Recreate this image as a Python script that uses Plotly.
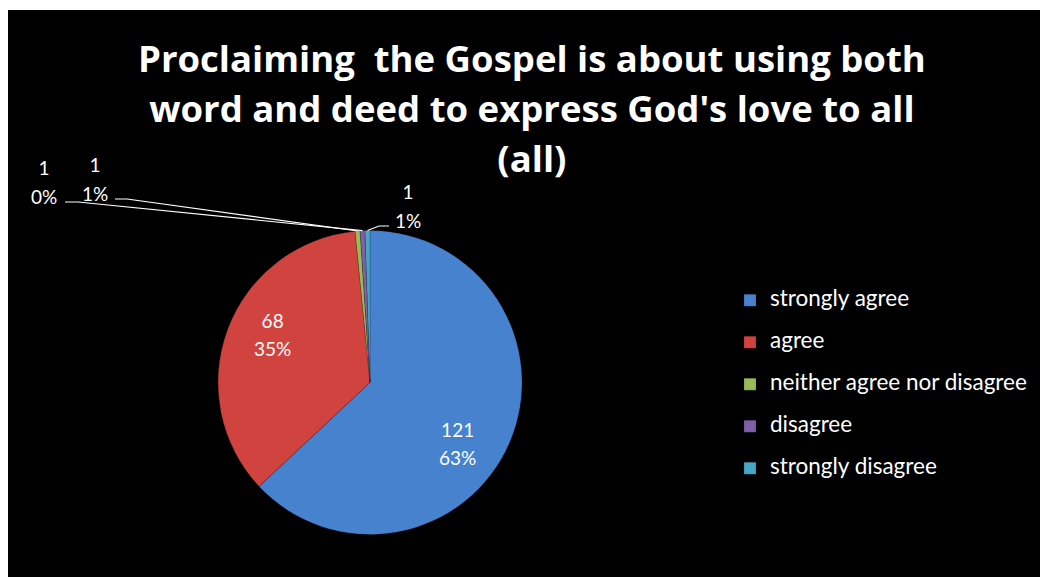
import math
import plotly.graph_objects as go

categories = ["strongly agree", "agree", "neither agree nor disagree", "disagree", "strongly disagree"]
values = [121, 68, 1, 1, 1]
percent_labels = ["63%", "35%", "1%", "0%", "1%"]
colors = ["#4782CF", "#D0433F", "#9BBB59", "#7F60A8", "#46A8C4"]
title_lines = ["Proclaiming  the Gospel is about using both",
               "word and deed to express God's love to all",
               "(all)"]

# The page body adds an 8px margin, so the figure is 8px smaller than the window
OFF = 8
W, H = 1048 - OFF, 577 - OFF
FONT = "Lato"
TITLE_FONT = "Open Sans"

def fx(x):
    return (x - OFF) / W

def fy(y):
    return 1 - (y - OFF) / H

def sized(text, size):
    return "<br>".join(f"<span style='font-size:{size}px'>{t}</span>" for t in text.split("<br>"))

# pie geometry (window pixels)
cx, cy, r = 370, 382.5, 152

texts = [f"{v}<br>{p}" for v, p in zip(values, percent_labels)]
legend_names = [sized(c, 22.5) + "<br> " for c in categories]

fig = go.Figure()
fig.add_trace(go.Pie(
    labels=legend_names,
    values=values,
    textinfo="none",
    marker=dict(colors=colors, line=dict(color="rgba(0,0,0,0.35)", width=0.5)),
    sort=False,
    direction="clockwise",
    rotation=0,
    domain=dict(x=[fx(cx - r), fx(cx + r)], y=[fy(cy + r), fy(cy - r)]),
    hovertemplate="%{value}<extra></extra>",
))

# black chart area on white page
shapes = [dict(type="rect", xref="paper", yref="paper", x0=fx(OFF), x1=fx(1044), y0=0, y1=fy(10),
               fillcolor="black", line=dict(width=0), layer="below")]

total = sum(values)
cum = 0
mids = []
for v in values:
    mids.append((cum + v / 2) / total * 2 * math.pi)
    cum += v

def rim(i):
    a = mids[i]
    return cx + r * math.sin(a), cy - r * math.cos(a)

annotations = []

# labels inside the two big slices
inside_pos = {0: (457, 443), 1: (272, 334)}
for i, (tx, ty) in inside_pos.items():
    annotations.append(dict(x=fx(tx), y=fy(ty), xref="paper", yref="paper",
                            xanchor="center", yanchor="middle",
                            text=sized(texts[i], 19), showarrow=False, align="center",
                            font=dict(family=FONT, size=21.5, color="white")))

# leader lines + labels for the tiny slices
label_layout = {
    2: dict(tx=95, ty=179, line=[(115, 199), (127, 199)]),
    3: dict(tx=44, ty=182, line=[(65, 202), (78, 202)]),
    4: dict(tx=408, ty=206, line=[(389, 226), (379, 226)]),
}
for i, spec in label_layout.items():
    rx, ry = rim(i)
    pts = spec["line"] + [(rx, ry)]
    path = "M " + " L ".join(f"{fx(x)},{fy(y)}" for x, y in pts)
    shapes.append(dict(type="path", xref="paper", yref="paper", path=path,
                       line=dict(color="white", width=1.2)))
    annotations.append(dict(x=fx(spec["tx"]), y=fy(spec["ty"]), xref="paper", yref="paper",
                            xanchor="center", yanchor="middle",
                            text=sized(texts[i], 19), showarrow=False, align="center",
                            font=dict(family=FONT, size=22, color="white")))

# title
annotations.append(dict(x=fx(532), y=fy(31), xref="paper", yref="paper",
                        xanchor="center", yanchor="top",
                        text=sized("<br>".join(title_lines), 36.5), showarrow=False, align="center",
                        font=dict(family=TITLE_FONT, size=38.5, color="white", weight="bold")))

fig.update_layout(
    width=W, height=H,
    margin=dict(l=0, r=0, t=0, b=0),
    paper_bgcolor="white",
    plot_bgcolor="black",
    legend=dict(x=fx(730), xanchor="left", y=fy(284), yanchor="top",
                font=dict(family=FONT, size=15, color="white"),
                valign="top", bgcolor="rgba(0,0,0,0)"),
    shapes=shapes,
    annotations=annotations,
)

fig.write_html("out.html")
